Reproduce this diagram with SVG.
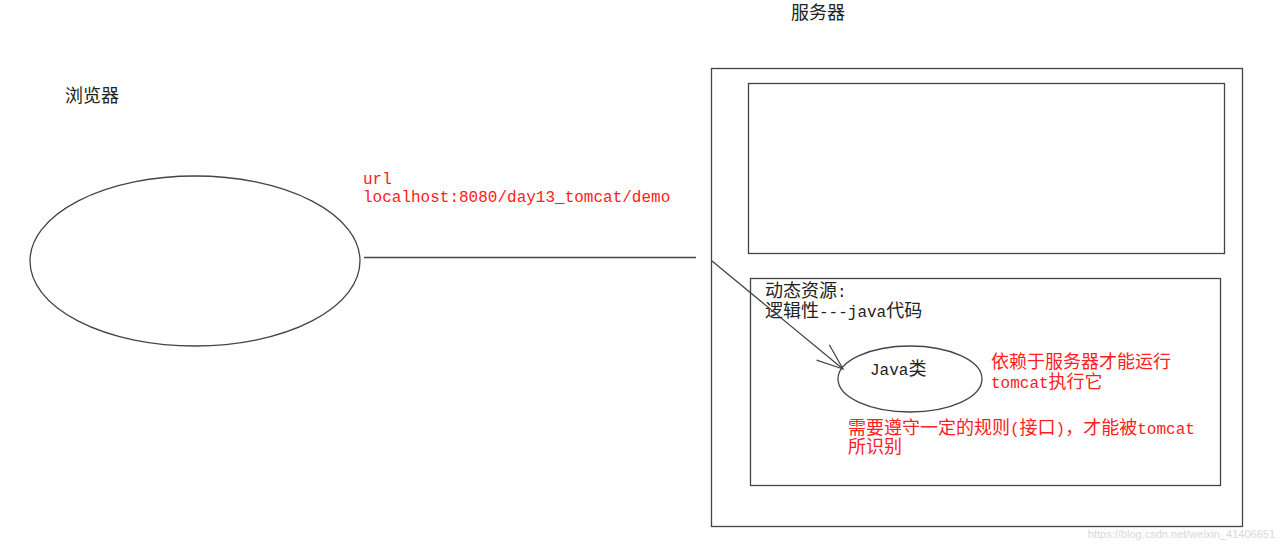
<svg xmlns="http://www.w3.org/2000/svg" width="1280" height="545" viewBox="0 0 1280 545">
  <style>
    .shape { fill: none; stroke: #444; stroke-width: 1.3; }
    .cjk { font-family: "Noto Sans CJK SC", "Liberation Mono", sans-serif; font-size: 18px; }
    .m { font-family: "Liberation Mono", "Noto Sans CJK SC", monospace; font-size: 16px; }
    .black { fill: #222; }
    .red { fill: #ff2020; }
    .wm { font-family: "Liberation Sans", sans-serif; font-size: 11px; fill: #d8d8d8; }
  </style>
  <defs>
    <marker id="arrow" markerUnits="userSpaceOnUse" markerWidth="30" markerHeight="24" refX="28" refY="12" orient="auto" viewBox="0 0 30 24">
      <path d="M 2,2 L 28,12 L 2,22" fill="none" stroke="#444" stroke-width="1.2"/>
    </marker>
  </defs>
  <rect width="1280" height="545" fill="#fff"/>

  <g id="browser">
    <ellipse class="shape" cx="195" cy="261" rx="165" ry="85"/>
    <text class="cjk black" x="65" y="102">浏览器</text>
  </g>

  <g id="server">
    <rect class="shape" x="711.5" y="68.5" width="531" height="458"/>
    <text class="cjk black" x="791" y="19">服务器</text>
  </g>

  <g id="static-area">
    <rect class="shape" x="748.5" y="83.5" width="476" height="170"/>
  </g>

  <g id="dynamic-area">
    <rect class="shape" x="750.5" y="278.5" width="470" height="207"/>
    <text class="cjk black" x="765" y="297">动态资源<tspan class="m">:</tspan></text>
    <text class="cjk black" x="765" y="317">逻辑性<tspan class="m">---java</tspan>代码</text>
  </g>

  <g id="java-class">
    <ellipse class="shape" cx="910" cy="379" rx="72" ry="33"/>
    <text class="cjk black" x="870" y="375"><tspan class="m">Java</tspan>类</text>
  </g>

  <g id="notes">
    <text class="m red" x="363" y="184">url</text>
    <text class="m red" x="363" y="202">localhost:8080/day13_tomcat/demo</text>
    <text class="cjk red" x="991" y="368">依赖于服务器才能运行</text>
    <text class="cjk red" x="991" y="388"><tspan class="m">tomcat</tspan>执行它</text>
    <text class="cjk red" x="848" y="434">需要遵守一定的规则<tspan class="m">(</tspan>接口<tspan class="m">)</tspan>，才能被<tspan class="m">tomcat</tspan></text>
    <text class="cjk red" x="848" y="453">所识别</text>
  </g>

  <g id="connectors">
    <line class="shape" x1="364" y1="257.5" x2="696" y2="257.5"/>
    <line class="shape" x1="712" y1="261" x2="843" y2="369" marker-end="url(#arrow)"/>
  </g>

  <text class="wm" x="1275" y="538" text-anchor="end">https://blog.csdn.net/weixin_41406651</text>
</svg>
